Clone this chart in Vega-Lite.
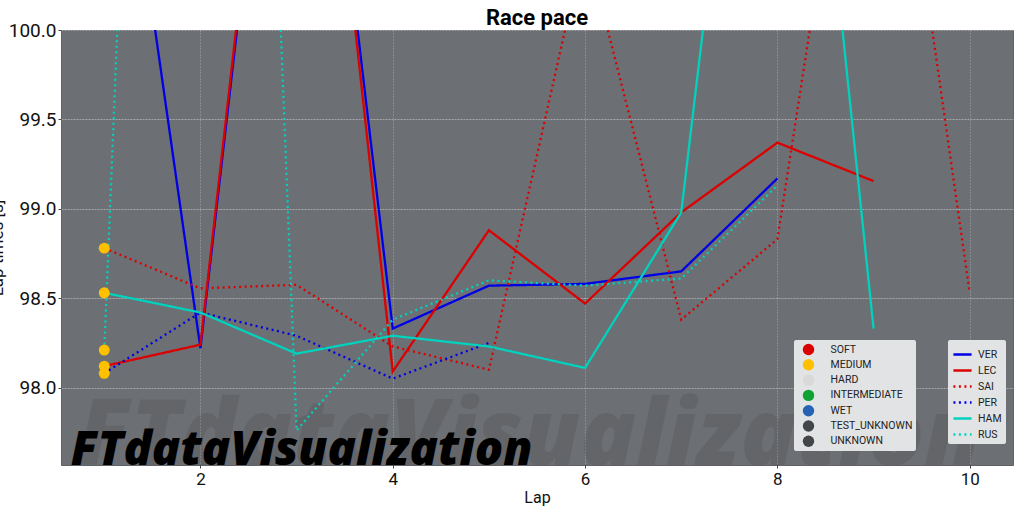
{
"$schema":"https://vega.github.io/schema/vega-lite/v6.json",
"autosize":{"type":"none"},
"padding":{"left":61,"top":30,"right":11,"bottom":47},
"width":952,"height":435,
"background":"white",
"title":{"text":"Race pace","font":"Roboto","fontSize":22,"fontWeight":"bold","color":"#000","anchor":"middle","offset":-9},
"config":{"font":"Roboto","view":{"fill":"#6c6f73","stroke":"#606265"}},
"datasets":{
"laps":[
{"lap":1,"time":102.0,"driver":"VER"},{"lap":2,"time":98.22,"driver":"VER"},{"lap":3,"time":102.9,"driver":"VER"},{"lap":4,"time":98.33,"driver":"VER"},{"lap":5,"time":98.57,"driver":"VER"},{"lap":6,"time":98.58,"driver":"VER"},{"lap":7,"time":98.65,"driver":"VER"},{"lap":8,"time":99.17,"driver":"VER"},
{"lap":1,"time":98.12,"driver":"LEC"},{"lap":2,"time":98.24,"driver":"LEC"},{"lap":3,"time":103.0,"driver":"LEC"},{"lap":4,"time":98.09,"driver":"LEC"},{"lap":5,"time":98.88,"driver":"LEC"},{"lap":6,"time":98.47,"driver":"LEC"},{"lap":7,"time":98.98,"driver":"LEC"},{"lap":8,"time":99.37,"driver":"LEC"},{"lap":9,"time":99.155,"driver":"LEC"},
{"lap":1,"time":98.78,"driver":"SAI"},{"lap":2,"time":98.555,"driver":"SAI"},{"lap":3,"time":98.575,"driver":"SAI"},{"lap":4,"time":98.23,"driver":"SAI"},{"lap":5,"time":98.1,"driver":"SAI"},{"lap":6,"time":100.5,"driver":"SAI"},{"lap":7,"time":98.38,"driver":"SAI"},{"lap":8,"time":98.83,"driver":"SAI"},{"lap":9,"time":102.3,"driver":"SAI"},{"lap":10,"time":98.53,"driver":"SAI"},
{"lap":1,"time":98.08,"driver":"PER"},{"lap":2,"time":98.42,"driver":"PER"},{"lap":3,"time":98.29,"driver":"PER"},{"lap":4,"time":98.05,"driver":"PER"},{"lap":5,"time":98.25,"driver":"PER"},
{"lap":1,"time":98.53,"driver":"HAM"},{"lap":2,"time":98.42,"driver":"HAM"},{"lap":3,"time":98.19,"driver":"HAM"},{"lap":4,"time":98.29,"driver":"HAM"},{"lap":5,"time":98.23,"driver":"HAM"},{"lap":6,"time":98.11,"driver":"HAM"},{"lap":7,"time":98.98,"driver":"HAM"},{"lap":8,"time":103.5,"driver":"HAM"},{"lap":9,"time":98.33,"driver":"HAM"},
{"lap":1,"time":98.21,"driver":"RUS"},{"lap":2,"time":111.4,"driver":"RUS"},{"lap":3,"time":97.76,"driver":"RUS"},{"lap":4,"time":98.38,"driver":"RUS"},{"lap":5,"time":98.6,"driver":"RUS"},{"lap":6,"time":98.57,"driver":"RUS"},{"lap":7,"time":98.61,"driver":"RUS"},{"lap":8,"time":99.13,"driver":"RUS"}
]},
"encoding":{
"x":{"field":"lap","type":"quantitative","title":"Lap","scale":{"domain":[0.55,10.45],"nice":false,"zero":false},
"axis":{"values":[2,4,6,8,10],"format":"d","grid":true,"gridColor":"#ffffff","gridOpacity":0.4,"gridDash":[1,2],"gridWidth":1,"domain":false,"tickColor":"#444","tickSize":3,"labelFontSize":17,"labelColor":"#111","labelPadding":3,"titleFontSize":16,"titleFontWeight":"normal","titleColor":"#111","titleY":24}},
"y":{"field":"time","type":"quantitative","title":"Lap times [s]","scale":{"domain":[97.567,100],"nice":false,"zero":false},
"axis":{"values":[98,98.5,99,99.5,100],"format":".1f","grid":true,"gridColor":"#ffffff","gridOpacity":0.4,"gridDash":[2,1],"gridWidth":1,"domain":false,"tickColor":"#444","tickSize":3,"labelFontSize":19,"labelColor":"#111","labelPadding":2,"titleFontSize":17,"titleFontWeight":"normal","titleColor":"#111","titleX":-55}}
},
"layer":[
{"data":{"values":[{"lap":0.6,"time":97.567,"label":"FTdataVisualization"}]},
"mark":{"type":"text","align":"left","baseline":"alphabetic","font":"Open Sans","fontWeight":800,"fontStyle":"italic","fontSize":92,"color":"#000","opacity":0.08,"clip":true,"dx":12},
"encoding":{"text":{"field":"label"}}},
{"data":{"name":"laps"},
"mark":{"type":"line","strokeWidth":2.3,"clip":true},
"encoding":{
"stroke":{"field":"driver","type":"nominal","sort":null,"scale":{"domain":["VER","LEC","SAI","PER","HAM","RUS"],"range":["#0000e6","#dc0000","#dc0000","#0000e6","#00d2be","#00d2be"]},
"legend":{"title":null,"orient":"none","legendX":887,"legendY":310,"fillColor":"#e2e3e4","cornerRadius":2,"padding":4,"labelFontSize":10.5,"labelColor":"#222","symbolType":"stroke","symbolStrokeWidth":2.3,"symbolSize":330,"rowPadding":0,"labelOffset":5}},
"strokeDash":{"field":"driver","type":"nominal","sort":null,"scale":{"domain":["VER","LEC","SAI","PER","HAM","RUS"],"range":[[1,0],[1,0],[2,3.5],[2,3.5],[1,0],[2,3.5]]},"legend":{"title":null,"orient":"none","legendX":887,"legendY":310,"fillColor":"#e2e3e4","cornerRadius":2,"padding":4,"labelFontSize":10.5,"labelColor":"#222","symbolType":"stroke","symbolStrokeWidth":2.3,"symbolSize":330,"rowPadding":0,"labelOffset":5}}
}},
{"data":{"values":[
{"lap":1,"time":98.78,"compound":"MEDIUM"},{"lap":1,"time":98.53,"compound":"MEDIUM"},{"lap":1,"time":98.21,"compound":"MEDIUM"},{"lap":1,"time":98.12,"compound":"MEDIUM"},{"lap":1,"time":98.08,"compound":"MEDIUM"}]},
"mark":{"type":"point","filled":true,"size":120,"opacity":1,"clip":true},
"encoding":{"fill":{"field":"compound","type":"nominal","sort":null,"scale":{"domain":["SOFT","MEDIUM","HARD","INTERMEDIATE","WET","TEST_UNKNOWN","UNKNOWN"],"range":["#da0000","#ffc000","#d9d9d9","#0fa336","#2563b5","#434649","#434649"]},
"legend":{"title":null,"orient":"none","legendX":733,"legendY":310,"fillColor":"#e2e3e4","cornerRadius":2,"padding":3.5,"labelFontSize":10.5,"labelColor":"#222","symbolType":"circle","symbolSize":130,"symbolStrokeWidth":0,"symbolOpacity":1,"symbolOffset":5,"rowPadding":3.3,"labelOffset":16}}}},
{"data":{"values":[{"lap":0.6,"time":97.567,"label":"FTdataVisualization"}]},
"mark":{"type":"text","align":"left","baseline":"alphabetic","font":"Open Sans","fontWeight":800,"fontStyle":"italic","fontSize":47,"color":"#000","clip":true,"dx":5},
"encoding":{"text":{"field":"label"}}}
]
}
